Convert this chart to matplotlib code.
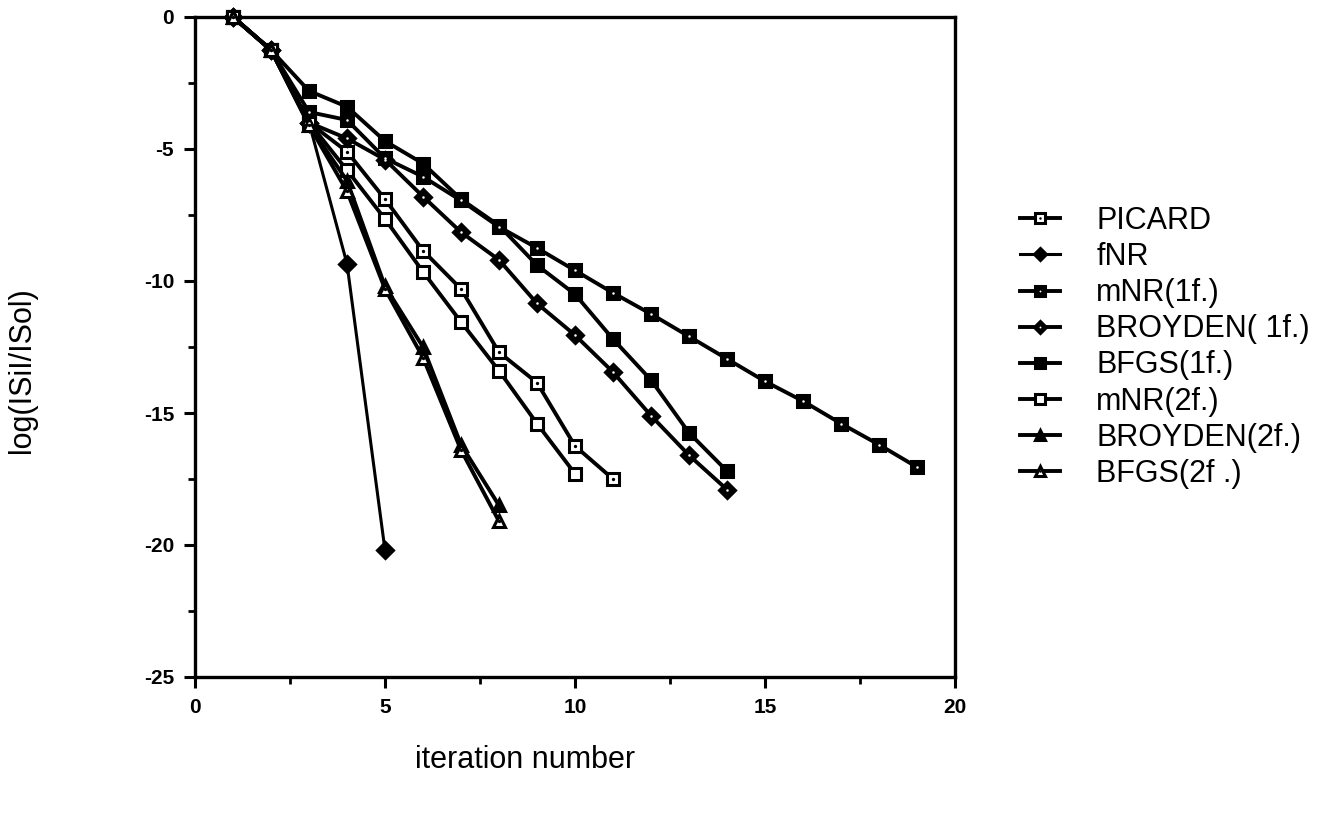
import matplotlib
matplotlib.use("Agg")
import matplotlib.pyplot as plt
from matplotlib.legend_handler import HandlerTuple
from matplotlib.ticker import MultipleLocator

plt.rcParams['font.family'] = ['Liberation Sans', 'DejaVu Sans']
plt.rcParams['axes.unicode_minus'] = False

labels = ["PICARD", "fNR", "mNR(1f.)", "BROYDEN( 1f.)", "BFGS(1f.)",
          "mNR(2f.)", "BROYDEN(2f.)", "BFGS(2f .)"]

x_picard = [1, 2, 3, 4, 5, 6, 7, 8, 9, 10, 11]
y_picard = [0, -1.25, -4.0, -5.1, -6.9, -8.85, -10.3, -12.7, -13.85, -16.25, -17.5]

x_fnr = [1, 2, 3, 4, 5]
y_fnr = [0, -1.25, -4.0, -9.35, -20.2]

x_mnr1 = [1, 2, 3, 4, 5, 6, 7, 8, 9, 10, 11, 12, 13, 14, 15, 16, 17, 18, 19]
y_mnr1 = [0, -1.25, -3.6, -3.9, -5.35, -6.05, -6.95, -7.95, -8.75, -9.6,
          -10.45, -11.25, -12.1, -12.95, -13.8, -14.55, -15.4, -16.2, -17.05]

x_broy1 = [1, 2, 3, 4, 5, 6, 7, 8, 9, 10, 11, 12, 13, 14]
y_broy1 = [0, -1.25, -4.0, -4.6, -5.4, -6.8, -8.15, -9.2, -10.85, -12.05,
           -13.45, -15.1, -16.6, -17.9]

x_bfgs1 = [1, 2, 3, 4, 5, 6, 7, 8, 9, 10, 11, 12, 13, 14]
y_bfgs1 = [0, -1.25, -2.8, -3.4, -4.7, -5.55, -6.9, -7.9, -9.4, -10.5,
           -12.2, -13.75, -15.75, -17.2]

x_mnr2 = [1, 2, 3, 4, 5, 6, 7, 8, 9, 10]
y_mnr2 = [0, -1.25, -4.0, -5.8, -7.65, -9.65, -11.55, -13.4, -15.4, -17.3]

x_broy2 = [1, 2, 3, 4, 5, 6, 7, 8]
y_broy2 = [0, -1.25, -4.1, -6.2, -10.2, -12.5, -16.2, -18.5]

x_bfgs2 = [1, 2, 3, 4, 5, 6, 7, 8]
y_bfgs2 = [0, -1.25, -4.1, -6.6, -10.3, -12.9, -16.4, -19.1]

xticks = [0, 5, 10, 15, 20]
yticks = [0, -5, -10, -15, -20, -25]

fig = plt.figure(figsize=(13.34, 8.15), dpi=100)
ax = fig.add_axes([195/1334, 1-677/815, 760/1334, 660/815])

lw = 2.8
ms = 9
# (x, y, marker, facecolor, dot colour or None, linewidth)
series = [
    (x_picard, y_picard, 's', 'white', 'black', lw),
    (x_fnr, y_fnr, 'D', 'black', None, 2.2),
    (x_mnr1, y_mnr1, 's', 'black', 'white', lw),
    (x_broy1, y_broy1, 'D', 'black', 'white', lw),
    (x_bfgs1, y_bfgs1, 's', 'black', None, lw),
    (x_mnr2, y_mnr2, 's', 'white', None, lw),
    (x_broy2, y_broy2, '^', 'black', None, lw),
    (x_bfgs2, y_bfgs2, '^', 'white', 'black', lw),
]

handles = []
for (xs, ys, mk, fc, dot, w), lab in zip(series, labels):
    m = ms if mk != 'D' else ms * 0.9
    ln, = ax.plot(xs, ys, color='black', lw=w, marker=mk, ms=m,
                  mfc=fc, mec='black', mew=2.2, zorder=3, clip_on=False)
    if dot is not None:
        dsz = 2.4 if dot == 'black' else 1.8
        dl, = ax.plot(xs, ys, ls='none', marker='o', ms=dsz, mfc=dot,
                      mec=dot, mew=0, zorder=4, clip_on=False)
        handles.append((ln, dl))
    else:
        handles.append(ln)

ax.set_xlim(0, 20)
ax.set_ylim(-25, 0)
ax.set_xticks(xticks)
ax.set_yticks(yticks)
ax.xaxis.set_minor_locator(MultipleLocator(2.5))
ax.yaxis.set_minor_locator(MultipleLocator(2.5))
ax.tick_params(which='major', direction='out', length=8, width=2.2,
               labelsize=15, pad=7)
ax.tick_params(which='minor', direction='out', length=5, width=2.0)
ax.tick_params(top=False, right=False, which='both')
for lab in ax.get_xticklabels() + ax.get_yticklabels():
    lab.set_fontweight('bold')
for s in ax.spines.values():
    s.set_linewidth(2.4)

fig.text(525/1334, 1-760/815, "iteration number", fontsize=22,
         ha='center', va='center')
fig.text(22/1334, 1-370/815, "log(ISiI/ISol)", fontsize=22,
         ha='center', va='center', rotation=90)

leg = fig.legend(handles, labels, loc='upper left',
                 bbox_to_anchor=(1020/1334, 1-206/815),
                 handler_map={tuple: HandlerTuple(ndivide=1, pad=0)},
                 frameon=False, fontsize=22, handlelength=1.3,
                 handletextpad=1.2, labelspacing=0.2, borderaxespad=0,
                 borderpad=0, markerscale=0.75)

fig.savefig("out.png", dpi=100)
